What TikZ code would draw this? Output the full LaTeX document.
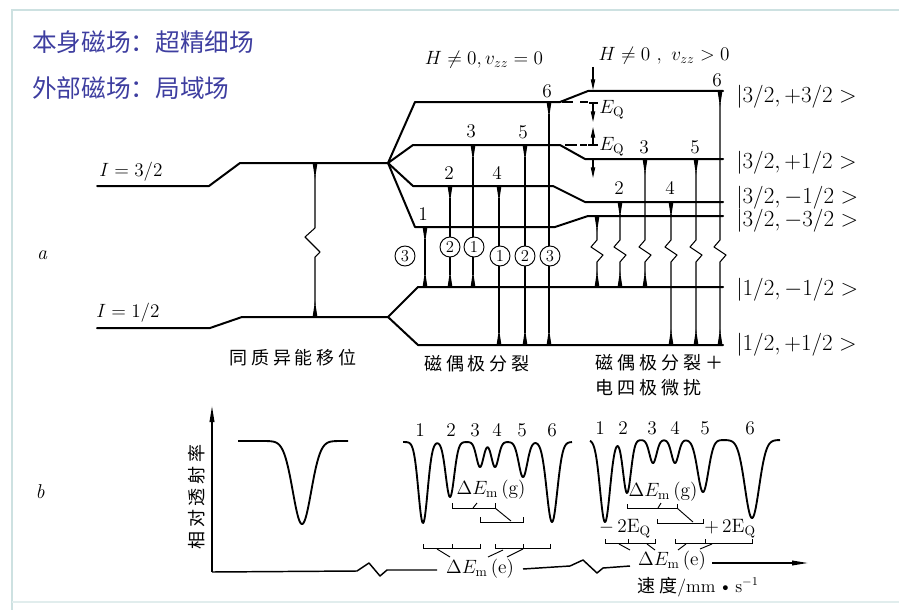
\documentclass[tikz,border=0pt]{standalone}
\usepackage{fontspec}
\newfontfamily\cjk{Noto Sans CJK SC}
\newfontfamily\cjksp[LetterSpace=22]{Noto Sans CJK SC}
\usetikzlibrary{arrows.meta}
\definecolor{hdr}{RGB}{62,62,160}
\definecolor{frm}{RGB}{205,225,225}
\newcommand{\gdip}[3]{#2*exp(max(-9,-((\x-#1)/#3)*((\x-#1)/#3)))}
\newcommand{\zigtr}[3]{\draw[tr] (#1,#2) -- (#1,240) -- ++(-6,7) -- ++(12,8) -- (#1,262) -- (#1,#3);}
\begin{document}
\begin{tikzpicture}[x=0.75pt,y=-0.75pt,
  lev/.style={line width=1.5pt,line join=round,line cap=round},
  tr/.style={line width=0.8pt,line join=round,{Triangle[reversed,length=12pt,width=3.4pt]}-{Triangle[reversed,length=12pt,width=3.4pt]}},
  tipd/.style={line width=0.8pt,-{Triangle[length=8pt,width=3.2pt]}},
  spec/.style={line width=1.4pt,line join=round},
  br/.style={line width=0.7pt},
  axis/.style={line width=1.1pt,line join=round},
  num/.style={font=\fontsize{14.5}{14.5}\selectfont,inner sep=0pt},
  ket/.style={font=\fontsize{16}{16}\selectfont,anchor=west,inner sep=0pt},
  mth/.style={font=\fontsize{14.5}{14.5}\selectfont,inner sep=0pt},
  circ/.style={circle,draw,line width=0.7pt,fill=white,inner sep=0pt,minimum size=15pt,font=\fontsize{12.5}{12.5}\selectfont},
  cj/.style={font=\cjksp\fontsize{13.5}{15}\selectfont,inner sep=0pt},
  hd/.style={font=\cjk\fontsize{18.5}{20}\selectfont,text=hdr,anchor=west,inner sep=0pt}
]
\useasboundingbox (0,0) rectangle (899,610);
% frame
\draw[frm,line width=2pt] (12,610) -- (12,10) -- (899,10);
\draw[frm!60,line width=1pt] (12,602) -- (899,602);
% header
\node[hd] (h1) at (32,42) {本身磁场：超精细场};
\node[hd] (h2) at (32,88) {外部磁场：局域场};
% part labels
\node[font=\itshape\fontsize{15}{15}\selectfont] (la) at (42,255) {a};
\node[font=\itshape\fontsize{15}{15}\selectfont] (lb) at (40,492) {b};
% ---------- part a ----------
\node[font=\fontsize{15.5}{15.5}\selectfont,anchor=west,inner sep=0pt] (i32) at (99,172) {$I=3/2$};
\node[font=\fontsize{15.5}{15.5}\selectfont,anchor=west,inner sep=0pt] (i12) at (96,313) {$I=1/2$};
\draw[lev] (97,186) -- (209,186) -- (240,163) -- (388,163);
\draw[lev] (97,328) -- (210,328) -- (242,317) -- (388,317);
\draw[tr] (315,163) -- (315,228) -- (305,237) -- (320,252) -- (315,257) -- (315,317);
\node[cj] (s1) at (293,358) {同质异能移位};
% excited fan
\draw[lev] (388,163) -- (415,102) -- (560,102) -- (588,91) -- (723,91);
\draw[lev] (388,163) -- (413,145) -- (560,145) -- (585,159) -- (723,159);
\draw[lev] (388,163) -- (413,186) -- (553,186) -- (585,202) -- (723,202);
\draw[lev] (388,163) -- (415,227) -- (555,227) -- (588,216) -- (723,216);
% ground fan
\draw[lev] (388,317) -- (418,287) -- (723,287);
\draw[lev] (388,317) -- (418,345) -- (723,345);
% dashed extensions and E_Q marks
\draw[lev,line cap=butt] (562,102) -- (573,102) (580,102) -- (588,102);
\draw[lev,line cap=butt] (589,103) -- (598,103);
\draw[lev,line cap=butt] (565,145) -- (577,145) (580,145) -- (587,145);
\draw[lev,line cap=butt] (588,145) -- (598,145);
\draw[tipd] (593,103) -- (593,122);
\draw[tipd] (593,145) -- (593,127);
\draw[tipd] (593,160) -- (593,178);
\draw[tipd] (593,67) -- (593,90);
\node[mth,anchor=west] (eq1) at (599,110) {$E_{\mathrm{Q}}$};
\node[mth,anchor=west] (eq2) at (599,147) {$E_{\mathrm{Q}}$};
\node[mth] (hm) at (484,60) {$H\neq0,v_{zz}=0$};
\node[mth] (hr) at (664,56) {$H\neq0\ ,\ v_{zz}>0$};
% middle transitions
\draw[tr] (425,227) -- (425,287);
\draw[tr] (450,186) -- (450,287);
\draw[tr] (473,145) -- (473,287);
\draw[tr] (499,186) -- (499,345);
\draw[tr] (525,145) -- (525,345);
\draw[tr] (549,102) -- (549,345);
\node[num] (m1) at (423,214) {1};
\node[num] (m2) at (449,173) {2};
\node[num] (m3) at (471,131) {3};
\node[num] (m4) at (497,173) {4};
\node[num] (m5) at (523,132) {5};
\node[num] (m6) at (547,91) {6};
\node[circ] (c1) at (405,256) {3};
\node[circ] (c2) at (450,247) {2};
\node[circ] (c3) at (474,247) {1};
\node[circ] (c4) at (500,256) {1};
\node[circ] (c5) at (525,256) {2};
\node[circ] (c6) at (550,256) {3};
\node[cj] (s2) at (477,364) {磁偶极分裂};
% right transitions
\zigtr{597}{216}{287}
\zigtr{620}{202}{287}
\zigtr{645}{159}{287}
\zigtr{671}{202}{345}
\zigtr{696}{159}{345}
\zigtr{720}{91}{345}
\node[num] (r2) at (619,188) {2};
\node[num] (r3) at (644,147) {3};
\node[num] (r4) at (670,188) {4};
\node[num] (r5) at (695,147) {5};
\node[num] (r6) at (717,80) {6};
\node[cj,anchor=west] (s3) at (595,363) {磁偶极分裂＋};
\node[cj,anchor=west] (s4) at (595,388) {电四极微扰};
% kets
\node[ket] (k1) at (736,97) {$|3/2,+3/2>$};
\node[ket] (k2) at (736,163) {$|3/2,+1/2>$};
\node[ket] (k3) at (736,198) {$|3/2,-1/2>$};
\node[ket] (k4) at (736,221) {$|3/2,-3/2>$};
\node[ket] (k5) at (736,290) {$|1/2,-1/2>$};
\node[ket] (k6) at (736,345) {$|1/2,+1/2>$};
% ---------- part b ----------
\draw[axis,-{Triangle[length=12pt,width=3.5pt]}] (212,572) -- (212,406);
\draw[axis] (212,572) -- (357,571) -- (369,563) -- (380,576) -- (387,570) -- (437,570);
\draw[axis] (523,569) -- (570,566) -- (583,560) -- (597,573) -- (603,568) -- (630,566);
\draw[axis,-{Triangle[length=12pt,width=3.5pt]}] (712,563) -- (808,563);
\node[cj,rotate=90] (ylab) at (197,497) {相对透射率};
\node[mth] (dee1) at (480,569) {$\Delta E_{\mathrm{m}}\,(\mathrm{e})$};
\node[mth] (dee2) at (672,561) {$\Delta E_{\mathrm{m}}\,(\mathrm{e})$};
\node[mth] (dem1) at (491,490) {$\Delta E_{\mathrm{m}}\,(\mathrm{g})$};
\node[mth] (dem2) at (663,492) {$\Delta E_{\mathrm{m}}\,(\mathrm{g})$};
\node[font=\fontsize{13.5}{14}\selectfont,inner sep=0pt] (vel) at (698,587) {{\cjksp 速度}/mm\,\textbullet\,s$^{-1}$};
% spectra
\draw[spec] plot[domain=238:348,samples=200] (\x,{441+\gdip{302}{83}{13}});
\draw[spec] plot[domain=403:572,samples=340] (\x,{442+\gdip{423}{81}{6.5}+\gdip{450}{55}{6}+\gdip{480}{25}{5}+\gdip{495}{25}{5}+\gdip{523}{35}{6}+\gdip{552}{80}{7.5}});
\draw[spec] plot[domain=590:780,samples=380] (\x,{440+\gdip{605}{82}{7}+\gdip{627}{53}{5.5}+\gdip{653}{23}{5}+\gdip{675}{23}{5}+\gdip{703}{52}{7.5}+\gdip{752}{78}{10}});
\foreach \n/\xx in {1/420,2/451,3/475,4/497,5/522,6/552}{
  \node[num] (bm\n) at (\xx,430) {\n};}
\foreach \n/\xx in {1/600,2/623,3/652,4/675,5/705,6/750}{
  \node[num] (br\n) at (\xx,428) {\n};}
% brackets middle
\draw[br] (452,503) -- (452,508) -- (495,508) -- (495,503);
\draw[br] (473,508) -- (477,503);
\draw[br] (480,517) -- (480,522) -- (523,522) -- (523,517);
\draw[br] (495,508) -- (511,521);
\draw[br] (423,544) -- (423,548) -- (480,548) -- (480,544);
\draw[br] (452,548) -- (452,544);
\draw[br] (437,549) -- (450,557);
\draw[br] (495,544) -- (495,548) -- (550,548) -- (550,544);
\draw[br] (523,548) -- (523,544);
\draw[br] (488,557) -- (503,550);
\draw[br] (507,557) -- (523,549);
% brackets right
\draw[br] (627,504) -- (627,508) -- (677,508) -- (677,504);
\draw[br] (658,508) -- (661,503);
\draw[br] (657,519) -- (657,523) -- (703,523) -- (703,519);
\draw[br] (677,508) -- (693,522);
\node[mth] (mq) at (625,529) {$-$\,2E$_{\mathrm{Q}}$};
\node[mth] (pq) at (730,529) {$+$\,2E$_{\mathrm{Q}}$};
\draw[br] (605,539) -- (605,543) -- (655,543) -- (655,539);
\draw[br] (628,543) -- (628,539);
\draw[br] (675,539) -- (675,543) -- (752,543) -- (752,539);
\draw[br] (705,543) -- (705,539);
\draw[br] (619,544) -- (630,550);
\draw[br] (647,544) -- (655,550);
\draw[br] (678,550) -- (686,544);
\draw[br] (700,549) -- (712,544);
\end{tikzpicture}
\end{document}
